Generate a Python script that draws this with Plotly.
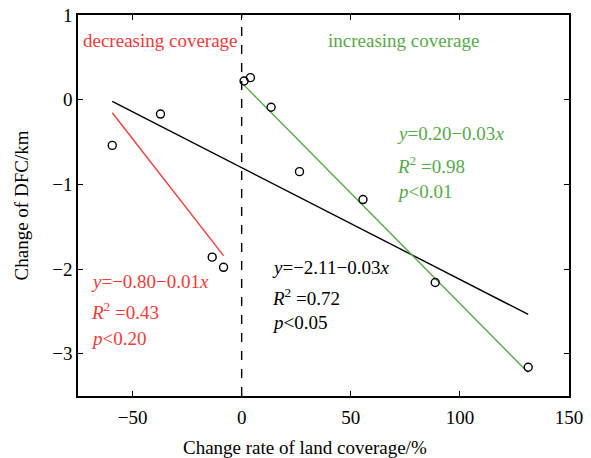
import numpy as np
import plotly.graph_objects as go

# Change rate of land coverage (%) and change of DFC (km) at each site
coverage_change = [-59.3, -37.2, -13.5, -8.3, 1.1, 4.0, 13.5, 26.5, 55.6, 88.7, 131.3]
dfc_change = [-0.54, -0.17, -1.86, -1.98, 0.22, 0.26, -0.09, -0.85, -1.18, -2.16, -3.16]

# Equation labels for each fit
red_labels = ["<i>y</i>=−0.80−0.01<i>x</i>", "<i>R</i><sup>2</sup> =0.43", "<i>p</i>&lt;0.20"]
black_labels = ["<i>y</i>=−2.11−0.03<i>x</i>", "<i>R</i><sup>2</sup> =0.72", "<i>p</i>&lt;0.05"]
green_labels = ["<i>y</i>=0.20−0.03<i>x</i>", "<i>R</i><sup>2</sup> =0.98", "<i>p</i>&lt;0.01"]

RED = "#ef3b3b"
GREEN = "#58a84a"
FONT = "Liberation Serif, Times New Roman, serif"
SIZE = 19

x = np.array(coverage_change)
y = np.array(dfc_change)


def fit_line(mask):
    xs, ys = x[mask], y[mask]
    k, b = np.polyfit(xs, ys, 1)
    xx = np.array([xs.min(), xs.max()])
    return xx, k * xx + b


fig = go.Figure()

for mask, color in [(x <= x.max(), "black"), (x < 0, RED), (x > 0, GREEN)]:
    lx, ly = fit_line(mask)
    fig.add_trace(go.Scatter(x=lx, y=ly, mode="lines",
                             line=dict(color=color, width=1.4),
                             showlegend=False, hoverinfo="skip"))

fig.add_trace(go.Scatter(x=coverage_change, y=dfc_change, mode="markers",
                         marker=dict(symbol="circle-open", size=8,
                                     color="black", line=dict(width=1.4)),
                         showlegend=False))

# boundary between decreasing and increasing coverage
fig.add_shape(type="line", x0=0, x1=0, y0=-3.5, y1=1, xref="x", yref="y",
              line=dict(color="black", width=1.4, dash="dash"))

annotations = [
    dict(x=-73.7, y=0.70, text="decreasing coverage", color=RED),
    dict(x=38.5, y=0.70, text="increasing coverage", color=GREEN),
]
for labels, x0, ys, color in [
    (green_labels, 70.2, [-0.40, -0.776, -1.08], GREEN),
    (black_labels, 12.8, [-1.986, -2.334, -2.63], "black"),
    (red_labels, -69.8, [-2.153, -2.50, -2.815], RED),
]:
    for t, yy in zip(labels, ys):
        annotations.append(dict(x=x0, y=yy, text=t, color=color))

for a in annotations:
    fig.add_annotation(x=a["x"], y=a["y"], text=a["text"], xref="x", yref="y",
                       xanchor="left", yanchor="middle", showarrow=False,
                       font=dict(family=FONT, size=SIZE, color=a["color"]))

# x-axis title, centred a little left of the plot centre
fig.add_annotation(x=(305 - 78) / (591 - 78 - 22), y=-(447 - 396) / (396 - 15),
                   text="Change rate of land coverage/%",
                   xref="paper", yref="paper", showarrow=False,
                   xanchor="center", yanchor="middle",
                   font=dict(family=FONT, size=SIZE, color="black"))

axis_common = dict(showline=True, linecolor="black", linewidth=1.5, mirror="ticks",
                   ticks="inside", ticklen=5, tickwidth=1.2, tickcolor="black",
                   showgrid=False, zeroline=False, automargin=False,
                   tickfont=dict(family=FONT, size=SIZE, color="black"))

fig.update_layout(
    width=591, height=458,
    margin=dict(l=78, r=22, t=15, b=62),
    paper_bgcolor="white", plot_bgcolor="white",
    font=dict(family=FONT),
    xaxis=dict(range=[-75, 150], tickvals=[-50, 0, 50, 100, 150],
               ticktext=["−50", "0", "50", "100", "150"],
               ticklabelstandoff=3, **axis_common),
    yaxis=dict(range=[-3.5, 1], tickvals=[-3, -2, -1, 0, 1],
               ticktext=["−3", "−2", "−1", "0", "1"],
               title=dict(text="Change of DFC/km", standoff=19,
                          font=dict(family=FONT, size=SIZE, color="black")),
               **axis_common),
)

fig.write_html("out.html")
